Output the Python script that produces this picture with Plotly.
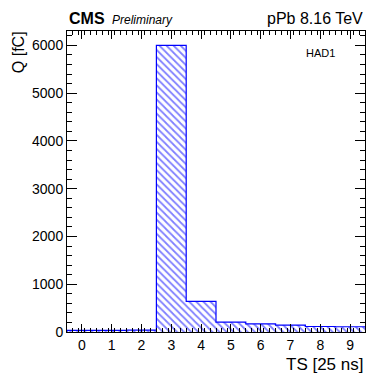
import plotly.graph_objects as go

ts_bins = [0, 1, 2, 3, 4, 5, 6, 7, 8, 9]
charge_fc = [35, 35, 40, 6000, 640, 205, 170, 145, 115, 110]
x_label = "TS [25 ns]"
y_label = "Q [fC]"
channel = "HAD1"

BLUE = "#0000ff"
FONT = "Liberation Sans, Arial, sans-serif"

fig = go.Figure()
fig.add_trace(go.Bar(
    x=ts_bins, y=charge_fc, width=1.0,
    marker=dict(color="white", line=dict(width=0),
                pattern=dict(shape="\\", fgcolor=BLUE, bgcolor="white", size=5, solidity=0.35)),
    showlegend=False, hoverinfo="skip",
))
# step outline of the histogram
edges = [b - 0.5 for b in ts_bins] + [ts_bins[-1] + 0.5]
step_y = [0] + charge_fc + [charge_fc[-1]]
step_x = [edges[0]] + edges
fig.add_trace(go.Scatter(
    x=step_x, y=step_y, mode="lines", line=dict(color=BLUE, width=1.2, shape="hv"),
    showlegend=False, hoverinfo="skip",
))

ymax = max(charge_fc) * 1.05

fig.update_layout(
    width=366, height=373,
    margin=dict(l=67, r=1, t=31, b=41),
    paper_bgcolor="white", plot_bgcolor="white",
    bargap=0,
    font=dict(family=FONT, size=14, color="black"),
    xaxis=dict(
        range=[-0.5, 9.5], tickmode="array", tickvals=ts_bins, ticktext=[str(t) for t in ts_bins],
        ticks="inside", ticklen=8, tickwidth=1, tickcolor="black",
        minor=dict(tickmode="linear", dtick=0.2, tick0=-0.5, ticks="inside", ticklen=4, tickcolor="black"),
        showline=True, linecolor="black", linewidth=1, mirror="ticks",
        showgrid=False, zeroline=False, tickfont=dict(size=14),
    ),
    yaxis=dict(
        range=[0, ymax], tickmode="linear", tick0=0, dtick=1000,
        ticks="inside", ticklen=10, tickwidth=1, tickcolor="black",
        minor=dict(dtick=200, ticks="inside", ticklen=5, tickcolor="black"),
        showline=True, linecolor="black", linewidth=1, mirror="ticks",
        showgrid=False, zeroline=False, tickfont=dict(size=14),
    ),
    annotations=[
        dict(text=y_label, xref="paper", yref="paper", x=-0.164, y=0.93, textangle=-90,
             xanchor="center", yanchor="middle", showarrow=False, font=dict(size=16)),
        dict(text=x_label, xref="paper", yref="paper", x=1.0, y=-0.107,
             xanchor="right", yanchor="middle", showarrow=False, font=dict(size=17)),
        dict(text="<b>CMS</b>", xref="paper", yref="paper", x=0.0, y=1.005,
             xanchor="left", yanchor="bottom", showarrow=False, font=dict(size=16)),
        dict(text="<i>Preliminary</i>", xref="paper", yref="paper", x=0.145, y=1.008,
             xanchor="left", yanchor="bottom", showarrow=False, font=dict(size=12)),
        dict(text="pPb 8.16 TeV", xref="paper", yref="paper", x=1.0, y=1.005,
             xanchor="right", yanchor="bottom", showarrow=False, font=dict(size=16)),
        dict(text=channel, xref="paper", yref="paper", x=0.905, y=0.928,
             xanchor="right", yanchor="middle", showarrow=False, font=dict(size=11)),
    ],
)

fig.write_html("out.html")
